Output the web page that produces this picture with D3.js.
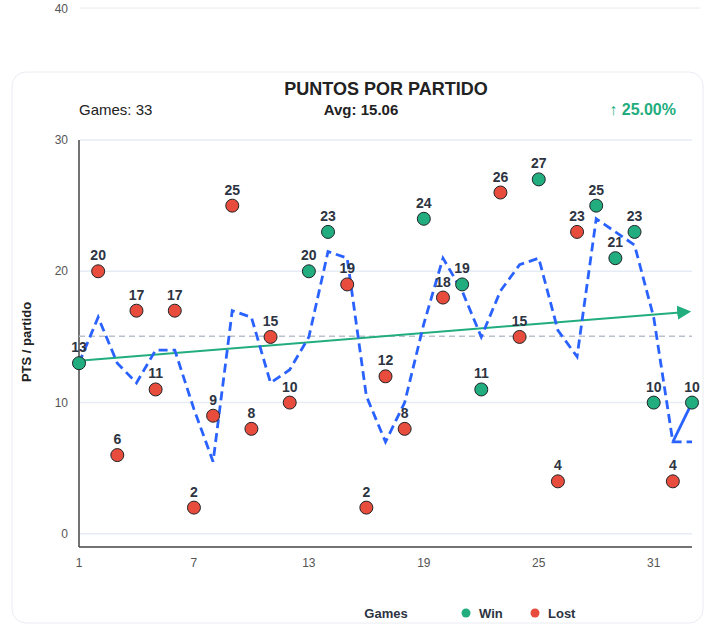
<!DOCTYPE html>
<html>
<head>
<meta charset="utf-8">
<script src="https://cdn.jsdelivr.net/npm/d3@7"></script>
<style>
  body { margin: 0; background: #fff; font-family: "Liberation Sans", Arial, sans-serif; }
  svg { display: block; }
</style>
</head>
<body>
<script>
(function(){

// data
var games = d3.range(1, 34);
var points = [13,20,6,17,11,17,2,9,25,8,15,10,20,23,19,2,12,8,24,18,19,11,26,15,27,4,23,25,21,23,10,4,10];
var results = ["W","L","L","L","L","L","L","L","L","L","L","L","W","W","L","L","L","L","W","L","W","W","L","L","W","L","L","W","W","W","W","L","W"];
// dashed blue line (rolling value)
var rolling = [13,16.5,13,11.5,14,14,9.5,5.5,17,16.5,11.5,12.5,15,21.5,21,10.5,7,10,16,21,18.5,15,18.5,20.5,21,15.5,13.5,24,23,22,16.5,7,7];
var trendEnds = [13.18, 16.94]; // green trend arrow, game 1 -> game 33
var avg = 15.06;
var yTicks = [0, 10, 20, 30];
var xTicks = [1, 7, 13, 19, 25, 31];

var width = 707, height = 625;
var green = "#22ad7e", red = "#e74c3c", blue = "#2962ff", ink = "#2d3442";

var svg = d3.select("body").append("svg")
  .attr("width", width)
  .attr("height", height);

// remnant of previous chart above
svg.append("line")
  .attr("x1", 80).attr("x2", 700).attr("y1", 8).attr("y2", 8)
  .attr("stroke", "#e6ebf2").attr("stroke-width", 1);
svg.append("text")
  .attr("x", 68).attr("y", 13)
  .attr("text-anchor", "end")
  .attr("font-size", 12).attr("fill", "#555")
  .text("40");

// card
svg.append("rect")
  .attr("x", 12).attr("y", 72)
  .attr("width", 691).attr("height", 551)
  .attr("rx", 14)
  .attr("fill", "#fff")
  .attr("stroke", "#e9ecf1");

// header
svg.append("text")
  .attr("x", 386).attr("y", 95)
  .attr("text-anchor", "middle")
  .attr("font-size", 18).attr("font-weight", "bold").attr("fill", "#222")
  .text("PUNTOS POR PARTIDO");
svg.append("text")
  .attr("x", 79).attr("y", 115)
  .attr("font-size", 15).attr("fill", "#222")
  .text("Games: " + points.length);
svg.append("text")
  .attr("x", 361).attr("y", 115)
  .attr("text-anchor", "middle")
  .attr("font-size", 15).attr("font-weight", "bold").attr("fill", "#222")
  .text("Avg: " + avg.toFixed(2));
svg.append("text")
  .attr("x", 676).attr("y", 115)
  .attr("text-anchor", "end")
  .attr("font-size", 16).attr("font-weight", "bold").attr("fill", green)
  .text("\u2191 25.00%");

// scales
var x = d3.scaleLinear().domain([1, 33]).range([79, 692]);
var y = d3.scaleLinear().domain([-1, 30]).range([547, 140]);

// grid
svg.append("g").selectAll("line")
  .data(yTicks)
  .enter().append("line")
  .attr("x1", 80).attr("x2", 692)
  .attr("y1", function(d){ return y(d); })
  .attr("y2", function(d){ return y(d); })
  .attr("stroke", "#e6ecf4").attr("stroke-width", 1.5);

// y tick labels
svg.append("g").selectAll("text")
  .data(yTicks)
  .enter().append("text")
  .attr("x", 68)
  .attr("y", function(d){ return y(d) + 4; })
  .attr("text-anchor", "end")
  .attr("font-size", 12).attr("fill", "#555")
  .text(function(d){ return d; });

// x tick labels
svg.append("g").selectAll("text")
  .data(xTicks)
  .enter().append("text")
  .attr("x", function(d){ return x(d); })
  .attr("y", 567)
  .attr("text-anchor", "middle")
  .attr("font-size", 12).attr("fill", "#555")
  .text(function(d){ return d; });

// axes lines
svg.append("line")
  .attr("x1", x(1)).attr("x2", x(1)).attr("y1", y(30)).attr("y2", y(-1))
  .attr("stroke", "#444").attr("stroke-width", 1.5);
svg.append("line")
  .attr("x1", x(1)).attr("x2", x(33)).attr("y1", y(-1)).attr("y2", y(-1))
  .attr("stroke", "#444").attr("stroke-width", 1.5);

// y axis title
svg.append("text")
  .attr("transform", "translate(31," + 342 + ") rotate(-90)")
  .attr("text-anchor", "middle")
  .attr("font-size", 13).attr("font-weight", "bold").attr("fill", "#222")
  .text("PTS / partido");

// average line
svg.append("line")
  .attr("x1", x(1)).attr("x2", x(33))
  .attr("y1", y(avg)).attr("y2", y(avg))
  .attr("stroke", "#b9c1cd").attr("stroke-width", 1.5)
  .attr("stroke-dasharray", "6,4");

// trend arrow
svg.append("defs").append("marker")
  .attr("id", "arrow")
  .attr("viewBox", "0 0 10 10")
  .attr("refX", 2).attr("refY", 5)
  .attr("markerWidth", 7).attr("markerHeight", 7)
  .attr("markerUnits", "strokeWidth")
  .attr("orient", "auto")
  .append("path")
  .attr("d", "M0,0 L10,5 L0,10 Z")
  .attr("fill", green);

svg.append("line")
  .attr("x1", x(1)).attr("y1", y(trendEnds[0]))
  .attr("x2", x(33) - 12).attr("y2", y(trendEnds[0] + (trendEnds[1] - trendEnds[0]) * (x(33) - 12 - x(1)) / (x(33) - x(1))))
  .attr("stroke", green).attr("stroke-width", 2)
  .attr("marker-end", "url(#arrow)");

// rolling dashed line
var line = d3.line()
  .x(function(d, i){ return x(games[i]); })
  .y(function(d){ return y(d); });

svg.append("path")
  .datum(rolling)
  .attr("d", line)
  .attr("fill", "none")
  .attr("stroke", blue).attr("stroke-width", 2.8)
  .attr("stroke-dasharray", "9,5");

// last segment solid, from rolling value of game 32 to last game points
svg.append("line")
  .attr("x1", x(games[31])).attr("y1", y(rolling[31]))
  .attr("x2", x(games[32])).attr("y2", y(points[32]))
  .attr("stroke", blue).attr("stroke-width", 2.8);

// points
var dots = svg.append("g").selectAll("g")
  .data(points)
  .enter().append("g");

dots.append("circle")
  .attr("cx", function(d, i){ return x(games[i]); })
  .attr("cy", function(d){ return y(d); })
  .attr("r", 6.5)
  .attr("fill", function(d, i){ return results[i] == "W" ? green : red; })
  .attr("stroke", "#1f2328").attr("stroke-width", 1);

dots.append("text")
  .attr("x", function(d, i){ return x(games[i]); })
  .attr("y", function(d){ return y(d) - 11; })
  .attr("text-anchor", "middle")
  .attr("font-size", 14).attr("font-weight", "bold").attr("fill", ink)
  .text(function(d){ return d; });

// legend
svg.append("text")
  .attr("x", 386).attr("y", 618)
  .attr("text-anchor", "middle")
  .attr("font-size", 13).attr("font-weight", "bold").attr("fill", ink)
  .text("Games");

var legend = [{label: "Win", color: green, x: 466}, {label: "Lost", color: red, x: 535}];
var lg = svg.append("g").selectAll("g")
  .data(legend)
  .enter().append("g");
lg.append("circle")
  .attr("cx", function(d){ return d.x; })
  .attr("cy", 613)
  .attr("r", 4.5)
  .attr("fill", function(d){ return d.color; });
lg.append("text")
  .attr("x", function(d){ return d.x + 13; })
  .attr("y", 618)
  .attr("font-size", 13).attr("font-weight", "bold").attr("fill", ink)
  .text(function(d){ return d.label; });

})();
</script>
</body>
</html>
